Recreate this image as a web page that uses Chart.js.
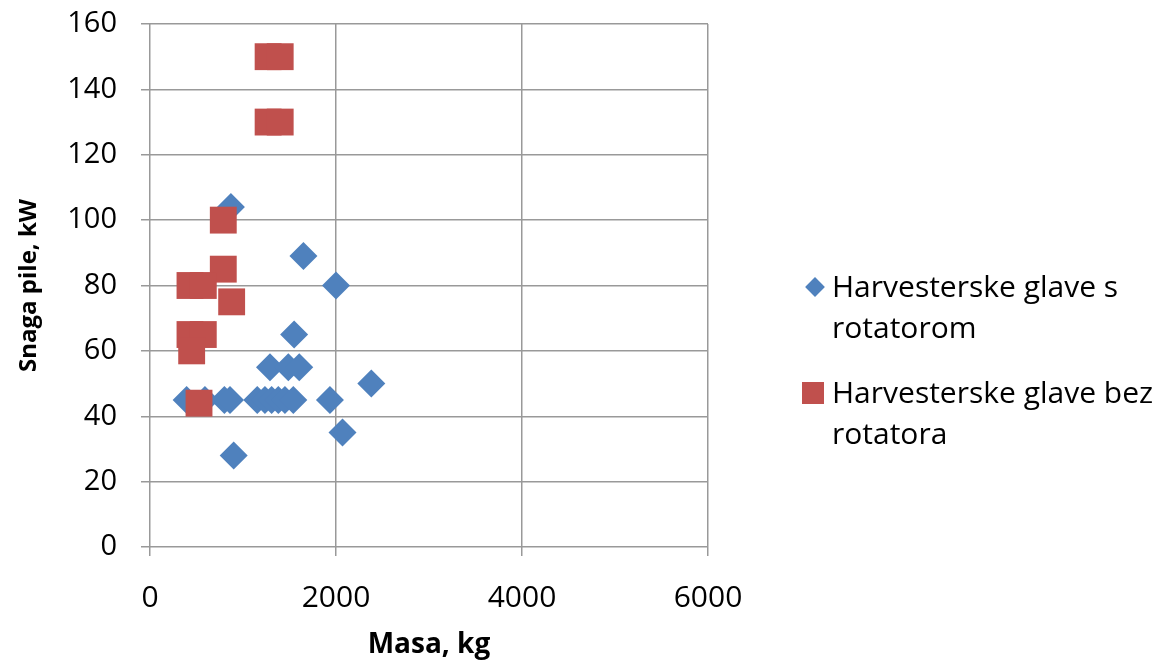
<!DOCTYPE html>
<html>
<head>
<meta charset="utf-8">
<script src="https://cdn.jsdelivr.net/npm/chart.js@4/dist/chart.umd.min.js"></script>
<style>
    html, body { margin: 0; padding: 0; background: #fff; }
    #wrap { position: relative; width: 1164px; height: 662px; }
    .leg { position: absolute; font-family: 'Open Sans', sans-serif; font-size: 30px; line-height: 41px; color: #000; }
    .mark { position: absolute; }
</style>
</head>
<body>
<div id="wrap">
    <canvas id="chart" width="1164" height="662"></canvas>
    <div class="mark" style="left:808px;top:280px;width:14px;height:14px;background:#4F81BD;transform:rotate(45deg);"></div>
    <div class="leg" style="left:832px;top:265px;">Harvesterske glave s<br>rotatorom</div>
    <div class="mark" style="left:802px;top:382px;width:22px;height:22px;background:#C0504D;"></div>
    <div class="leg" style="left:832px;top:371px;">Harvesterske glave bez<br>rotatora</div>
</div>
<script>
// Harvesterske glave s rotatorom
const sRotX = [394, 591, 800, 860, 870, 900, 1153, 1236, 1308, 1380, 1451, 1541, 1935, 1290, 1487, 1605, 1550, 1650, 2000, 2380, 2070];
const sRotY = [45, 45, 45, 45, 104, 28, 45, 45, 45, 45, 45, 45, 45, 55, 55, 55, 65, 89, 80, 50, 35];
// Harvesterske glave bez rotatora
const bezRotX = [1270, 1400, 1270, 1400, 788, 788, 430, 573, 878, 430, 573, 448, 527];
const bezRotY = [150, 150, 130, 130, 100, 85, 80, 80, 75, 65, 65, 60, 44];

const xTicks = [0, 2000, 4000, 6000];
const yTicks = [0, 20, 40, 60, 80, 100, 120, 140, 160];

function toPoints(xs, ys) {
    return xs.map((x, i) => ({ x: x, y: ys[i] }));
}

const gridColor = '#999999';

new Chart(document.getElementById('chart'), {
    type: 'scatter',
    data: {
        datasets: [{
            label: 'Harvesterske glave s rotatorom',
            data: toPoints(sRotX, sRotY),
            pointStyle: 'rectRot',
            pointRadius: 14,
            pointHoverRadius: 14,
            backgroundColor: '#4F81BD',
            borderColor: '#4F81BD',
            borderWidth: 0,
            order: 2
        }, {
            label: 'Harvesterske glave bez rotatora',
            data: toPoints(bezRotX, bezRotY),
            pointStyle: 'rect',
            pointRadius: 19,
            pointHoverRadius: 19,
            backgroundColor: '#C0504D',
            borderColor: '#C0504D',
            borderWidth: 0,
            order: 1
        }]
    },
    options: {
        responsive: false,
        animation: false,
        layout: { padding: { top: 24, right: 456, left: 0, bottom: 0 } },
        plugins: {
            legend: { display: false },
            tooltip: { enabled: false }
        },
        scales: {
            x: {
                type: 'linear',
                min: 0,
                max: 6000,
                afterBuildTicks: s => { s.ticks = xTicks.map(v => ({ value: v })); },
                afterFit: s => { s.height = 115; },
                grid: { color: gridColor, lineWidth: 1.5, tickLength: 9 },
                border: { display: false },
                ticks: {
                    color: '#000',
                    padding: 24,
                    maxRotation: 0,
                    callback: v => String(v),
                    font: { family: 'Open Sans', size: 30 }
                },
                title: {
                    display: true,
                    text: 'Masa, kg',
                    color: '#000',
                    padding: { top: 2, bottom: 0 },
                    font: { family: 'Open Sans', size: 28, weight: 'bold' }
                }
            },
            y: {
                type: 'linear',
                min: 0,
                max: 160,
                afterBuildTicks: s => { s.ticks = yTicks.map(v => ({ value: v })); },
                afterFit: s => {
                    s.width = 150;
                    s.paddingTop = 0;
                    s.paddingBottom = 0;
                },
                grid: { color: gridColor, lineWidth: 1.5, tickLength: 9 },
                border: { display: false },
                ticks: {
                    color: '#000',
                    padding: 24,
                    callback: v => String(v),
                    font: { family: 'Open Sans', size: 29 }
                },
                title: {
                    display: true,
                    text: 'Snaga pile, kW',
                    color: '#000',
                    padding: { top: 15, bottom: 0 },
                    font: { family: 'Open Sans', size: 24, weight: 'bold' }
                }
            }
        }
    }
});
</script>
</body>
</html>
